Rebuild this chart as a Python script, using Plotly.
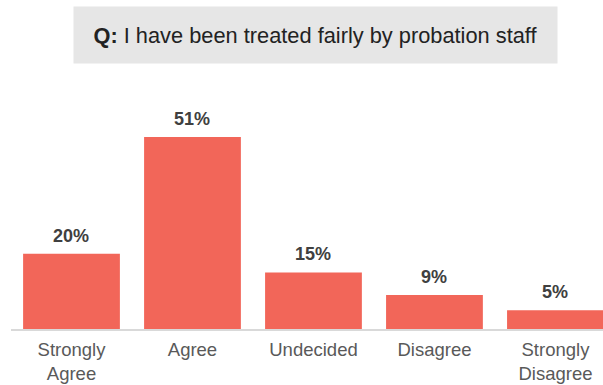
import plotly.graph_objects as go

# Survey responses
categories = ["Strongly<br>Agree", "Agree", "Undecided", "Disagree", "Strongly<br>Disagree"]
percentages = [20, 51, 15, 9, 5]
question = "<b>Q:</b> I have been treated fairly by probation staff"

bar_color = "#F26659"
font_family = "Arial, 'Liberation Sans', sans-serif"

fig = go.Figure(
    go.Bar(
        x=categories,
        y=percentages,
        marker=dict(color=bar_color, line=dict(width=0)),
        hoverinfo="skip",
    )
)

# Bold percentage labels above each bar
for cat, val in zip(categories, percentages):
    fig.add_annotation(
        x=cat, y=val, text=f"<b>{val}%</b>",
        showarrow=False, yanchor="bottom", yshift=6,
        font=dict(family=font_family, size=18, color="#404040"),
    )

# Question header in a grey box
fig.add_annotation(
    xref="paper", yref="paper", x=0.5144, y=1.1807,
    xanchor="center", yanchor="middle",
    text=question, showarrow=False,
    width=483, height=56, bgcolor="#E6E6E6", borderpad=0,
    font=dict(family=font_family, size=21.8, color="#222222"),
)

fig.update_layout(
    width=603, height=385,
    margin=dict(l=11, r=0, t=80, b=56),
    paper_bgcolor="white", plot_bgcolor="white",
    bargap=0.2, showlegend=False,
    font=dict(family=font_family),
    xaxis=dict(
        range=[-0.5, 4.393], automargin=False,
        showline=True, linecolor="#D9D9D9", linewidth=1.5,
        showgrid=False, zeroline=False, ticks="",
        ticklabelstandoff=3,
        tickfont=dict(family=font_family, size=18.5, color="#595959"),
    ),
    yaxis=dict(
        range=[0, 66.1], visible=False, showgrid=False, zeroline=False,
        automargin=False,
    ),
)

fig.write_html("out.html")
